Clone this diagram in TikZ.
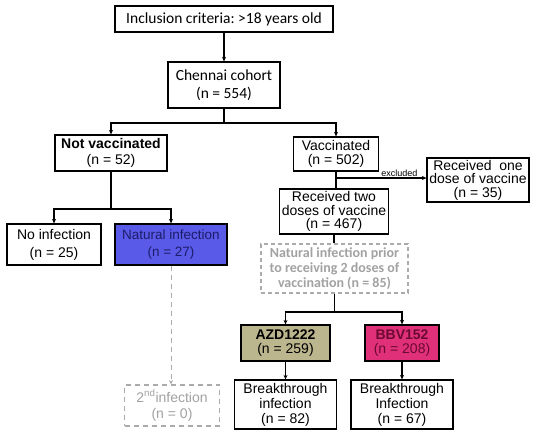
\documentclass[tikz,border=0pt]{standalone}
\usepackage{fontspec}
\setmainfont{Liberation Sans}
\newfontfamily\calfont{Carlito}
\usetikzlibrary{arrows.meta}
\definecolor{natblue}{HTML}{5A5AE8}
\definecolor{natText}{HTML}{1C1C6A}
\definecolor{azdfill}{HTML}{BCB68E}
\definecolor{bbvfill}{HTML}{E0307A}
\definecolor{bbvText}{HTML}{6A0A30}
\definecolor{dashgray}{HTML}{ABABAB}
\definecolor{txtgray}{HTML}{A2A2A2}
\frenchspacing
\begin{document}
\begin{tikzpicture}[x=1pt,y=-1pt,
  box/.style={draw=black, line width=1.2pt, fill=white, align=center, inner sep=0pt,
              font=\fontsize{14}{15}\selectfont},
  dbox/.style={draw=dashgray, line width=1.2pt, dash pattern=on 5pt off 4pt, fill=white,
              align=center, inner sep=0pt, text=txtgray, font=\fontsize{14}{15}\selectfont},
  arr/.style={line width=1.2pt, -{Stealth[length=4.5pt,width=4pt]}},
  ln/.style={line width=1.2pt},
  darr/.style={line width=1pt, draw=dashgray, dash pattern=on 5pt off 4pt,
              -{Stealth[length=4.5pt,width=4pt]}},
  lbl/.style={font=\fontsize{9}{9}\selectfont, inner sep=1pt}
]
\useasboundingbox (0,0) rectangle (536,438);

\node[box, minimum width=218, minimum height=26, font=\calfont\fontsize{15.5}{17}\selectfont] (incl) at (224,19) {Inclusion criteria: >18 years old};
\node[box, minimum width=112, minimum height=46, font=\calfont\fontsize{15.5}{18.5}\selectfont] (chennai) at (224,85) {Chennai cohort\\(n = 554)};

\node[box, minimum width=112, minimum height=36, font=\fontsize{14}{15.5}\selectfont] (notvac) at (111,153) {\textbf{Not vaccinated}\\(n = 52)};
\node[box, minimum width=85, minimum height=34, font=\fontsize{14}{14}\selectfont] (vac) at (336,154) {Vaccinated\\(n = 502)};
\node[box, minimum width=102, minimum height=44, font=\fontsize{14}{13.5}\selectfont] (one) at (478,180) {Received\ \ one\\dose of vaccine\\(n = 35)};
\node[box, minimum width=109, minimum height=45, font=\fontsize{14}{13.5}\selectfont] (two) at (334,211.5) {Received two\\doses of vaccine\\(n = 467)};

\node[box, minimum width=94, minimum height=41, font=\fontsize{14}{18}\selectfont] (noinf) at (54,244.5) {No infection\\(n = 25)};
\node[box, fill=natblue, text=natText, minimum width=112, minimum height=41, font=\fontsize{13.5}{17}\selectfont] (natinf) at (171,244.5) {Natural infection\\(n = 27)};

\node[dbox, dash pattern=on 4pt off 3pt, minimum width=147, minimum height=49, font=\calfont\bfseries\fontsize{14}{14.7}\selectfont] (prior) at (334.5,268.5) {Natural infection prior\\to receiving 2 doses of\\vaccination (n = 85)};

\node[box, fill=azdfill, minimum width=89, minimum height=36, font=\fontsize{14}{14}\selectfont] (azd) at (285.5,343) {\textbf{AZD1222}\\(n = 259)};
\node[box, fill=bbvfill, text=bbvText, minimum width=74, minimum height=36, font=\fontsize{14}{14}\selectfont] (bbv) at (402,343) {\textbf{BBV152}\\(n = 208)};

\node[dbox, minimum width=95, minimum height=41, font=\fontsize{14}{16}\selectfont] (second) at (172,405.5) {2\textsuperscript{nd}infection\\(n = 0)};
\node[box, minimum width=102, minimum height=49, font=\fontsize{14}{15}\selectfont] (bt1) at (285.5,404.5) {Breakthrough\\infection\\(n = 82)};
\node[box, minimum width=102, minimum height=49, font=\fontsize{14}{15}\selectfont] (bt2) at (402,404.5) {Breakthrough\\Infection\\(n = 67)};

% connectors
\draw[arr] (incl.south) -- (chennai.north);
\coordinate (cb) at (224,123);
\draw[ln] (chennai.south) -- (cb);
\draw[arr] (cb) -| (notvac.north);
\draw[arr] (cb) -| (vac.north);

\coordinate (lb) at (111,209);
\draw[ln] (notvac.south) -- (lb);
\draw[arr] (lb) -| (noinf.north);
\draw[arr] (lb) -| (natinf.north);
\draw[darr] (natinf.south) -- (natinf.south |- second.north);

\draw[ln] (vac.south) -- (vac.south |- two.north);
\coordinate (ex) at (336,178);
\draw[arr] (ex) -- (ex -| one.west) node[lbl, pos=0.7, above] {excluded};

\draw[ln] (two.south) -- (two.south |- prior.north);
\coordinate (pb) at (335,312);
\draw[ln] (prior.south) -- (prior.south |- pb);
\draw[arr] (prior.south |- pb) -| (azd.north);
\draw[arr] (prior.south |- pb) -| (bbv.north);
\draw[arr] (azd.south) -- (bt1.north);
\draw[arr] (bbv.south) -- (bt2.north);
\end{tikzpicture}
\end{document}
